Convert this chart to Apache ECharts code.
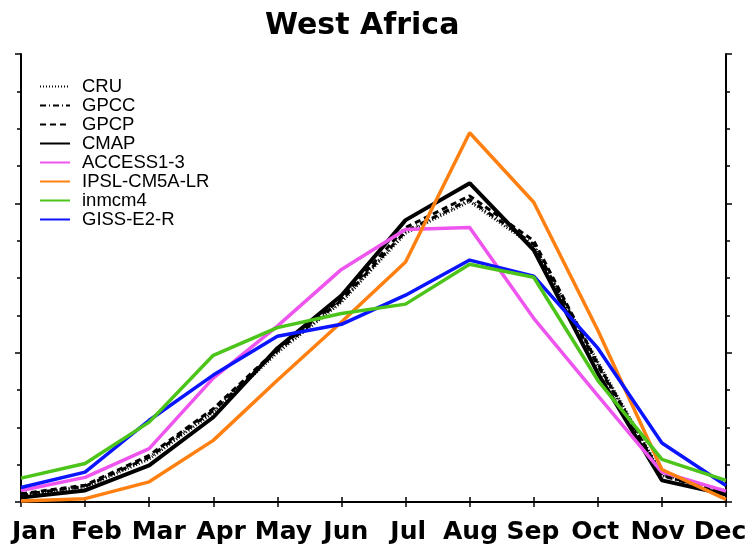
<!DOCTYPE html>
<html>
<head>
<meta charset="utf-8">
<script src="https://cdn.jsdelivr.net/npm/echarts@6/dist/echarts.min.js"></script>
<style>
  html, body { margin: 0; padding: 0; background: #fff; }
  #chart { width: 751px; height: 552px; }
</style>
</head>
<body>
<div id="chart"></div>
<script>
// monthly climatology (axis runs 0..12, no labels shown)
const months = ['Jan', 'Feb', 'Mar', 'Apr', 'May', 'Jun', 'Jul', 'Aug', 'Sep', 'Oct', 'Nov', 'Dec'];

const cru    = [0.18, 0.40, 1.15, 2.40, 4.00, 5.35, 7.20, 8.05, 6.85, 3.75, 0.75, 0.30];
const gpcc   = [0.20, 0.42, 1.20, 2.45, 4.05, 5.40, 7.25, 8.10, 6.90, 3.65, 0.70, 0.25];
const gpcp   = [0.22, 0.45, 1.25, 2.50, 4.10, 5.45, 7.35, 8.20, 7.00, 3.70, 0.72, 0.25];
const cmap   = [0.12, 0.31, 0.98, 2.27, 4.12, 5.53, 7.55, 8.54, 6.75, 3.45, 0.58, 0.20];
const access = [0.31, 0.66, 1.43, 3.32, 4.71, 6.23, 7.30, 7.35, 4.92, 2.85, 0.80, 0.29];
const ipsl   = [0.03, 0.09, 0.54, 1.65, 3.26, 4.82, 6.43, 9.89, 8.03, 4.60, 0.87, 0.07];
const inmcm  = [0.64, 1.03, 2.14, 3.93, 4.67, 5.05, 5.30, 6.37, 6.02, 3.26, 1.14, 0.58];
const giss   = [0.39, 0.80, 2.19, 3.40, 4.44, 4.76, 5.54, 6.48, 6.05, 4.12, 1.58, 0.44];

const chart = echarts.init(document.getElementById('chart'));

function lineSeries(name, data, color, width, type) {
  return {
    name: name,
    type: 'line',
    xAxisIndex: 0,
    yAxisIndex: 0,
    data: data,
    symbol: 'none',
    animation: false,
    lineStyle: { color: color, width: width, type: type || 'solid' },
    itemStyle: { color: color }
  };
}

const axisLine = { show: true, lineStyle: { color: '#000', width: 2 } };

chart.setOption({
  backgroundColor: '#fff',
  title: {
    text: 'West Africa',
    left: 260,
    top: 6,
    textStyle: {
      fontFamily: 'DejaVu Sans',
      fontWeight: 'bold',
      fontSize: 30,
      color: '#000'
    }
  },
  legend: {
    orient: 'vertical',
    left: 34,
    top: 72,
    itemWidth: 30,
    itemHeight: 14,
    itemGap: 0,
    lineStyle: { width: 2 },
    itemStyle: { opacity: 0, borderWidth: 0 },
    textStyle: {
      fontFamily: 'Liberation Sans',
      fontSize: 18.5,
      lineHeight: 18,
      color: '#000',
      padding: [0, 0, 0, 7]
    },
    data: ['CRU', 'GPCC', 'GPCP', 'CMAP', 'ACCESS1-3', 'IPSL-CM5A-LR', 'inmcm4', 'GISS-E2-R']
  },
  grid: [
    { left: 21, right: 25, top: 54, bottom: 50 },
    { left: 34, right: 31, top: 54, bottom: 50 }
  ],
  xAxis: [
    {
      type: 'category',
      gridIndex: 0,
      position: 'bottom',
      boundaryGap: false,
      data: months,
      axisLine: axisLine,
      axisTick: { show: true, length: 5, lineStyle: { color: '#000', width: 1.5 } },
      axisLabel: { show: false },
      splitLine: { show: false }
    },
    {
      type: 'category',
      gridIndex: 0,
      position: 'top',
      boundaryGap: false,
      data: months,
      axisLine: axisLine,
      axisTick: { show: true, length: 5, lineStyle: { color: '#000', width: 1.5 } },
      axisLabel: { show: false },
      splitLine: { show: false }
    },
    {
      // month names are spread a bit wider than the ticks in the original
      type: 'category',
      gridIndex: 1,
      position: 'bottom',
      boundaryGap: false,
      data: months,
      axisLine: { show: false },
      axisTick: { show: false },
      axisLabel: {
        interval: 0,
        margin: 18,
        fontFamily: 'DejaVu Sans',
        fontWeight: 'bold',
        fontSize: 25,
        color: '#000'
      },
      splitLine: { show: false }
    }
  ],
  yAxis: [
    {
      type: 'value',
      gridIndex: 0,
      position: 'left',
      min: 0,
      max: 12,
      interval: 4,
      axisLine: axisLine,
      axisTick: { show: true, length: 6, lineStyle: { color: '#000', width: 1.5 } },
      minorTick: { show: true, splitNumber: 4, length: 4, lineStyle: { color: '#000', width: 1.5 } },
      axisLabel: { show: false },
      splitLine: { show: false }
    },
    {
      type: 'value',
      gridIndex: 0,
      position: 'right',
      min: 0,
      max: 12,
      interval: 4,
      axisLine: axisLine,
      axisTick: { show: true, length: 6, lineStyle: { color: '#000', width: 1.5 } },
      minorTick: { show: true, splitNumber: 4, length: 4, lineStyle: { color: '#000', width: 1.5 } },
      axisLabel: { show: false },
      splitLine: { show: false }
    },
    {
      type: 'value',
      gridIndex: 1,
      show: false,
      min: 0,
      max: 12
    }
  ],
  series: [
    lineSeries('CRU', cru, '#000', 3, [1, 2]),
    lineSeries('GPCC', gpcc, '#000', 3, [6, 3, 1, 3]),
    lineSeries('GPCP', gpcp, '#000', 3, [6, 4]),
    lineSeries('CMAP', cmap, '#000', 4),
    lineSeries('ACCESS1-3', access, '#ee55ee', 3.5),
    lineSeries('IPSL-CM5A-LR', ipsl, '#ff8010', 3.5),
    lineSeries('GISS-E2-R', giss, '#0a14ff', 3.5),
    lineSeries('inmcm4', inmcm, '#4cc41a', 3.5)
  ]
});
</script>
</body>
</html>
